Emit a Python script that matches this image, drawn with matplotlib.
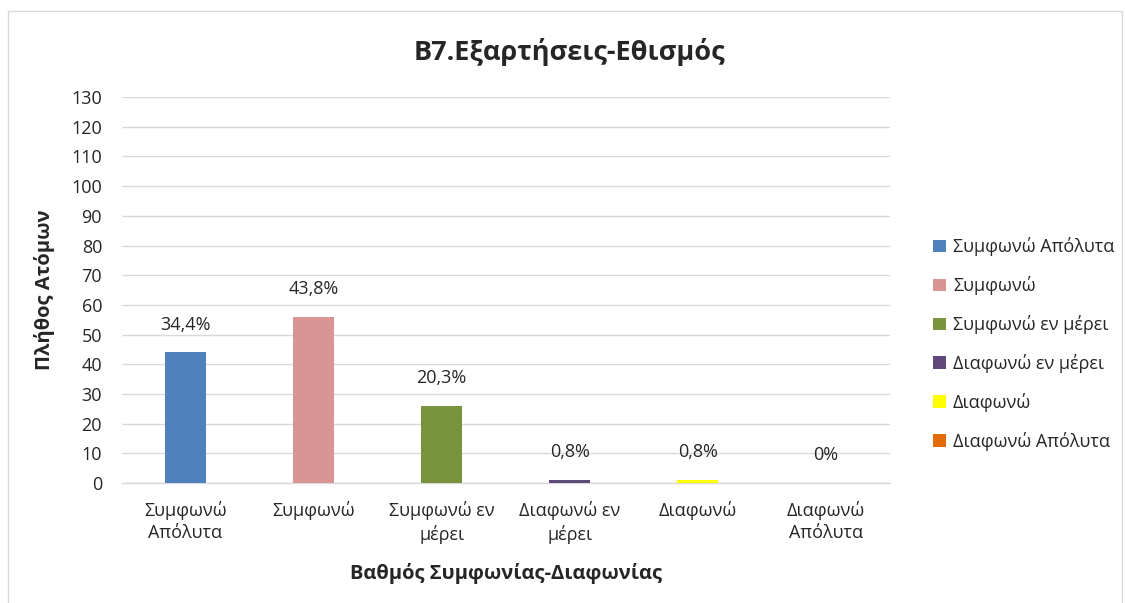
import matplotlib.pyplot as plt
from matplotlib.patches import Rectangle

# δεδομένα
categories = ["Συμφωνώ Απόλυτα", "Συμφωνώ", "Συμφωνώ εν μέρει",
              "Διαφωνώ εν μέρει", "Διαφωνώ", "Διαφωνώ Απόλυτα"]
tick_labels = ["Συμφωνώ\nΑπόλυτα", "Συμφωνώ", "Συμφωνώ εν\nμέρει",
               "Διαφωνώ εν\nμέρει", "Διαφωνώ", "Διαφωνώ\nΑπόλυτα"]
counts = [44, 56, 26, 1, 1, 0]
pct_labels = ["34,4%", "43,8%", "20,3%", "0,8%", "0,8%", "0%"]
colors = ["#4f81bd", "#d99594", "#77933c", "#604a7b", "#ffff00", "#e36c09"]

plt.rcParams['font.family'] = ['Open Sans', 'DejaVu Sans']
text_col = '#262626'

fig = plt.figure(figsize=(11.25, 6.03), dpi=100)
ax = fig.add_axes([0.108, 0.199, 0.683, 0.640])

# πλαίσιο γραφήματος
fig.patches.append(Rectangle((0.007, -0.01), 0.99, 0.992, transform=fig.transFigure,
                             fill=False, edgecolor='#d9d9d9', linewidth=1))

x = range(len(categories))
bars = ax.bar(x, counts, width=0.32, color=colors, label=categories, zorder=3)

for b, lab in zip(bars, pct_labels):
    ax.annotate(lab, (b.get_x() + b.get_width() / 2, b.get_height()),
                xytext=(0, 20), textcoords='offset points', ha='center', va='center',
                fontsize=13, color=text_col)

ax.set_xlim(-0.5, len(categories) - 0.5)
ax.set_ylim(0, 130)
ax.set_yticks(range(0, 131, 10))
ax.set_xticks(list(x))
ax.set_xticklabels(tick_labels, fontsize=13, color=text_col, linespacing=1.3)
ax.tick_params(axis='y', labelsize=13, colors=text_col, length=0, pad=14)
ax.tick_params(axis='x', length=0, pad=13)
ax.grid(axis='y', color='#d9d9d9', linewidth=1, zorder=0)
for s in ['top', 'right', 'left']:
    ax.spines[s].set_visible(False)
ax.spines['bottom'].set_color('#d9d9d9')
ax.spines['bottom'].set_linewidth(1)

# τίτλος κεντραρισμένος στο σχήμα
fig.text(0.506, 0.913, "Β7.Εξαρτήσεις-Εθισμός", fontsize=19.5, fontweight='bold',
         color=text_col, ha='center', va='center')
ax.set_ylabel("Πλήθος Ατόμων", fontsize=14.5, fontweight='bold', color=text_col, labelpad=12)
ax.set_xlabel("Βαθμός Συμφωνίας-Διαφωνίας", fontsize=14.5, fontweight='bold',
              color=text_col, labelpad=14)

leg = ax.legend(loc='center left', bbox_to_anchor=(1.035, 0.36), frameon=False,
                fontsize=13, handlelength=0.7, handleheight=0.7, handletextpad=0.4,
                labelspacing=1.1, labelcolor=text_col)

plt.savefig("out.png", dpi=100)
plt.close()
